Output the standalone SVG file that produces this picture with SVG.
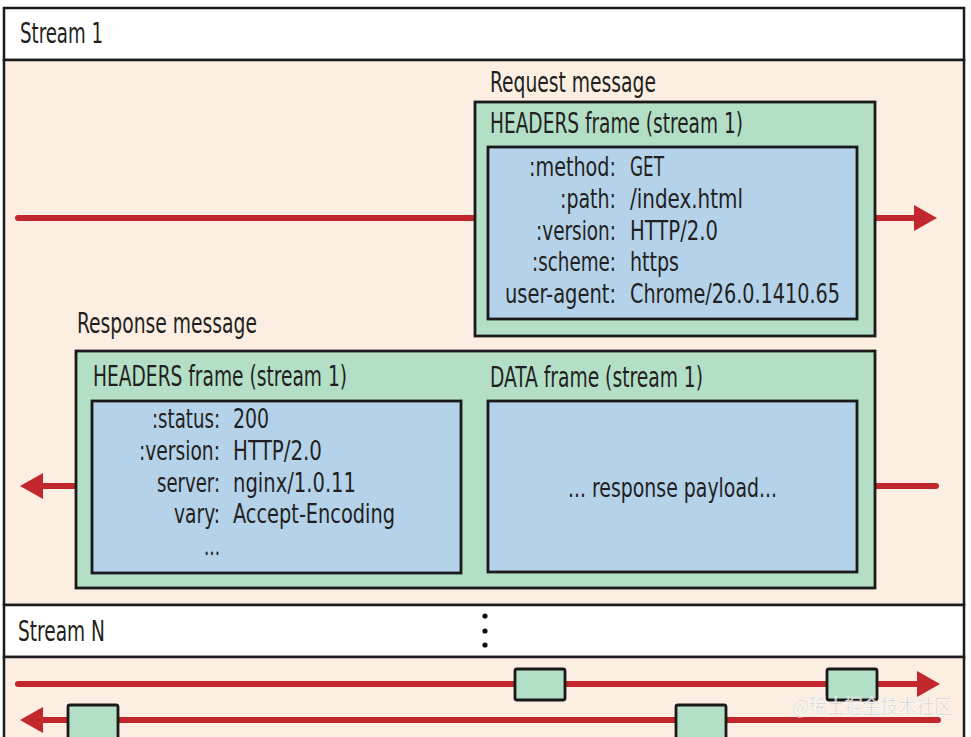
<svg xmlns="http://www.w3.org/2000/svg" width="971" height="737" viewBox="0 0 971 737">
<style>
text{font-family:"Liberation Sans Narrow","DejaVu Sans Condensed","Liberation Sans",sans-serif;fill:#231f20;}
.t{font-size:28px;}
.f{font-size:26px;}
.k{font-size:26px;text-anchor:end;}
.hdr{fill:#ffffff;stroke:#1a1a1a;stroke-width:2.5;}
.body{fill:#fcefe2;stroke:#1a1a1a;stroke-width:2.5;}
.green{fill:#b3dfc7;stroke:#1a1a1a;stroke-width:2.8;}
.blue{fill:#b4d2ea;stroke:#1a1a1a;stroke-width:2.8;}
.frm{fill:#b3dfc7;stroke:#1a1a1a;stroke-width:2.8;}
.wire{fill:none;stroke:#c1272d;stroke-width:6;stroke-linecap:round;}
</style>
<defs>
<marker id="ah" markerUnits="userSpaceOnUse" markerWidth="24" markerHeight="26" refX="0" refY="13" orient="auto">
<path d="M0,0 L23,13 L0,26 z" fill="#c1272d"/>
</marker>
</defs>

<g id="stream1-header">
<rect class="hdr" x="4" y="8" width="960" height="52"/>
<text class="t" x="20" y="43" textLength="83" lengthAdjust="spacingAndGlyphs">Stream 1</text>
</g>
<g id="stream1-body">
<rect class="body" x="4" y="60" width="960" height="545"/>
</g>
<g id="streamN-header">
<rect class="hdr" x="4" y="605" width="960" height="52"/>
<text class="t" x="18" y="641" textLength="87" lengthAdjust="spacingAndGlyphs">Stream N</text>
<circle cx="485" cy="616" r="2.6" fill="#111"/>
<circle cx="485" cy="631" r="2.6" fill="#111"/>
<circle cx="485" cy="645" r="2.6" fill="#111"/>
</g>
<g id="streamN-body">
<rect class="body" x="4" y="657" width="960" height="90"/>
</g>

<g id="connectors">
<path class="wire" d="M18,218 H914" marker-end="url(#ah)"/>
<path class="wire" d="M936,486 H43" marker-end="url(#ah)"/>
<path class="wire" d="M18,684 H917" marker-end="url(#ah)"/>
<path class="wire" d="M938,720 H43" marker-end="url(#ah)"/>
</g>

<g id="request-message">
<text class="t" x="490" y="92" textLength="166" lengthAdjust="spacingAndGlyphs">Request message</text>
<rect class="green" x="475" y="102" width="400" height="234"/>
<text class="t" x="490" y="133" textLength="253" lengthAdjust="spacingAndGlyphs">HEADERS frame (stream 1)</text>
<rect class="blue" x="488" y="147" width="369" height="172"/>
<text class="k" x="616" y="176" textLength="87" lengthAdjust="spacingAndGlyphs">:method:</text>
<text class="f" x="630" y="176" textLength="34" lengthAdjust="spacingAndGlyphs">GET</text>
<text class="k" x="616" y="208" textLength="56" lengthAdjust="spacingAndGlyphs">:path:</text>
<text class="f" x="630" y="208" textLength="113" lengthAdjust="spacingAndGlyphs">/index.html</text>
<text class="k" x="616" y="240" textLength="80" lengthAdjust="spacingAndGlyphs">:version:</text>
<text class="f" x="630" y="240" textLength="88" lengthAdjust="spacingAndGlyphs">HTTP/2.0</text>
<text class="k" x="616" y="271" textLength="84" lengthAdjust="spacingAndGlyphs">:scheme:</text>
<text class="f" x="630" y="271" textLength="49" lengthAdjust="spacingAndGlyphs">https</text>
<text class="k" x="616" y="303" textLength="111" lengthAdjust="spacingAndGlyphs">user-agent:</text>
<text class="f" x="630" y="303" textLength="210" lengthAdjust="spacingAndGlyphs">Chrome/26.0.1410.65</text>
</g>

<g id="response-message">
<text class="t" x="77" y="333" textLength="180" lengthAdjust="spacingAndGlyphs">Response message</text>
<rect class="green" x="76" y="351" width="799" height="237"/>
<text class="t" x="93" y="386" textLength="254" lengthAdjust="spacingAndGlyphs">HEADERS frame (stream 1)</text>
<rect class="blue" x="92" y="401" width="369" height="172"/>
<text class="k" x="220" y="428" textLength="68" lengthAdjust="spacingAndGlyphs">:status:</text>
<text class="f" x="233" y="428" textLength="36" lengthAdjust="spacingAndGlyphs">200</text>
<text class="k" x="220" y="460" textLength="81" lengthAdjust="spacingAndGlyphs">:version:</text>
<text class="f" x="233" y="460" textLength="89" lengthAdjust="spacingAndGlyphs">HTTP/2.0</text>
<text class="k" x="220" y="492" textLength="63" lengthAdjust="spacingAndGlyphs">server:</text>
<text class="f" x="233" y="492" textLength="123" lengthAdjust="spacingAndGlyphs">nginx/1.0.11</text>
<text class="k" x="220" y="523" textLength="46" lengthAdjust="spacingAndGlyphs">vary:</text>
<text class="f" x="233" y="523" textLength="162" lengthAdjust="spacingAndGlyphs">Accept-Encoding</text>
<text class="k" x="220" y="555" textLength="16" lengthAdjust="spacingAndGlyphs">...</text>
<text class="t" x="490" y="387" textLength="213" lengthAdjust="spacingAndGlyphs">DATA frame (stream 1)</text>
<rect class="blue" x="488" y="401" width="369" height="171"/>
<text class="f" x="568" y="497" textLength="209" lengthAdjust="spacingAndGlyphs">... response payload...</text>
</g>

<g id="frame-out-1"><rect class="frm" x="515" y="669" width="50" height="31" rx="2"/></g>
<g id="frame-out-2"><rect class="frm" x="827" y="669" width="50" height="31" rx="2"/></g>
<g id="frame-in-1"><rect class="frm" x="68" y="705" width="50" height="36" rx="2"/></g>
<g id="frame-in-2"><rect class="frm" x="676" y="705" width="50" height="36" rx="2"/></g>

<text x="792" y="714" font-size="20" textLength="160" lengthAdjust="spacingAndGlyphs" style="font-family:'Noto Sans CJK SC',sans-serif;fill:#c8c8c8;opacity:0.85;stroke:#ffffff;stroke-width:0.6;">@稀土掘金技术社区</text>
</svg>
